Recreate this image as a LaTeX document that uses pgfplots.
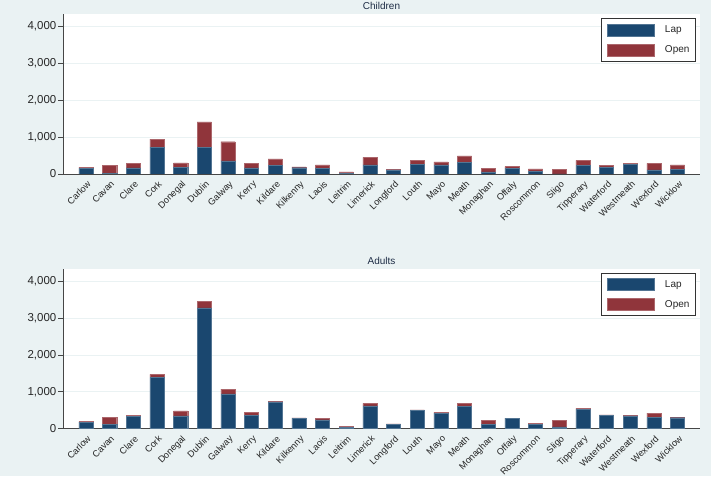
\documentclass[border=0pt]{standalone}
\usepackage{pgfplots}
\pgfplotsset{compat=1.18}
\usepackage{pgfplotstable}
\usepackage{fontspec}
\setmainfont{Liberation Sans}
\definecolor{bg}{RGB}{234,242,243}
\definecolor{lapc}{RGB}{26,71,111}
\definecolor{openc}{RGB}{144,53,59}
\definecolor{titlec}{RGB}{30,45,70}
\definecolor{axc}{RGB}{70,70,70}

\pgfplotstableread{
x lap open
0 150 30
1 20 210
2 165 125
3 725 220
4 175 125
5 715 695
6 355 520
7 165 125
8 225 185
9 170 25
10 145 100
11 10 45
12 250 200
13 110 15
14 255 115
15 245 85
16 310 180
17 55 90
18 150 50
19 65 75
20 5 125
21 225 145
22 175 50
23 265 25
24 110 180
25 135 110
}\children

\pgfplotstableread{
x lap open
0 180 15
1 110 195
2 340 25
3 1390 85
4 350 135
5 3275 180
6 945 125
7 370 65
8 730 15
9 280 15
10 240 35
11 40 30
12 620 65
13 125 5
14 495 15
15 420 20
16 615 70
17 125 100
18 280 5
19 115 35
20 50 185
21 525 25
22 360 15
23 350 15
24 310 110
25 298 15
}\adults

\pgfplotsset{panel/.style={
  scale only axis, width=637pt, height=160pt,
  ybar stacked, bar width=0.6,
  xmin=-0.97, xmax=25.95, ymin=0, ymax=4336,
  enlarge x limits=false,
  axis x line*=bottom, axis y line*=left,
  axis line style={axc, line width=0.6pt, -},
  axis background/.style={fill=white},
  xtick={0,...,25},
  xticklabels={Carlow,Cavan,Clare,Cork,Donegal,Dublin,Galway,Kerry,Kildare,Kilkenny,Laois,Leitrim,Limerick,Longford,Louth,Mayo,Meath,Monaghan,Offaly,Roscommon,Sligo,Tipperary,Waterford,Westmeath,Wexford,Wicklow},
  x tick style={draw=none},
  xticklabel style={rotate=45, anchor=north east, inner sep=0pt, xshift=-0.5pt, yshift=-1.5pt, font=\fontsize{9.2}{11}\selectfont, text=black!85},
  ytick={0,1000,2000,3000,4000},
  scaled y ticks=false,
  y tick style={axc, line width=0.6pt},
  tick align=outside, major tick length=4.5pt,
  ymajorgrids, major grid style={bg, line width=0.7pt},
  yticklabel style={font=\fontsize{11.5}{13}\selectfont, text=black!85, inner sep=2pt},
  /pgf/number format/1000 sep={,},
  /pgf/number format/assume math mode=true,
  every axis title shift=0pt,
  title style={at={(0.5,1)}, anchor=base, yshift=4.5pt, inner sep=0pt, font=\fontsize{10}{12}\selectfont, text=titlec},
  legend image code/.code={\fill[##1] (0pt,-6pt) rectangle (47pt,6pt);},
  legend style={at={(rel axis cs:0.9933,0.973)}, anchor=north east, draw=black!80, line width=0.6pt, fill=white,
    font=\fontsize{10}{12}\selectfont, inner xsep=5pt, inner ysep=5pt, row sep=7.5pt,
    nodes={inner sep=1pt, text=black!85}, cells={anchor=west},
    /tikz/every odd column/.append style={column sep=10pt}},
  legend cell align=left,
}}

\begin{document}
\begin{tikzpicture}
\path[use as bounding box] (0pt,0pt) rectangle (711pt,476pt);
\fill[bg] (0pt,0pt) rectangle (711pt,476pt);
\begin{axis}[panel, at={(63pt,302pt)}, anchor=south west, title={Children}]
\addplot[fill=lapc, draw=lapc!75!white, line width=0.4pt] table[x=x,y=lap]{\children};
\addplot[fill=openc, draw=openc!75!white, line width=0.4pt] table[x=x,y=open]{\children};
\legend{Lap,Open}
\end{axis}
\begin{axis}[panel, at={(63pt,47.3pt)}, anchor=south west, title={Adults}]
\addplot[fill=lapc, draw=lapc!75!white, line width=0.4pt] table[x=x,y=lap]{\adults};
\addplot[fill=openc, draw=openc!75!white, line width=0.4pt] table[x=x,y=open]{\adults};
\legend{Lap,Open}
\end{axis}
\end{tikzpicture}
\end{document}
